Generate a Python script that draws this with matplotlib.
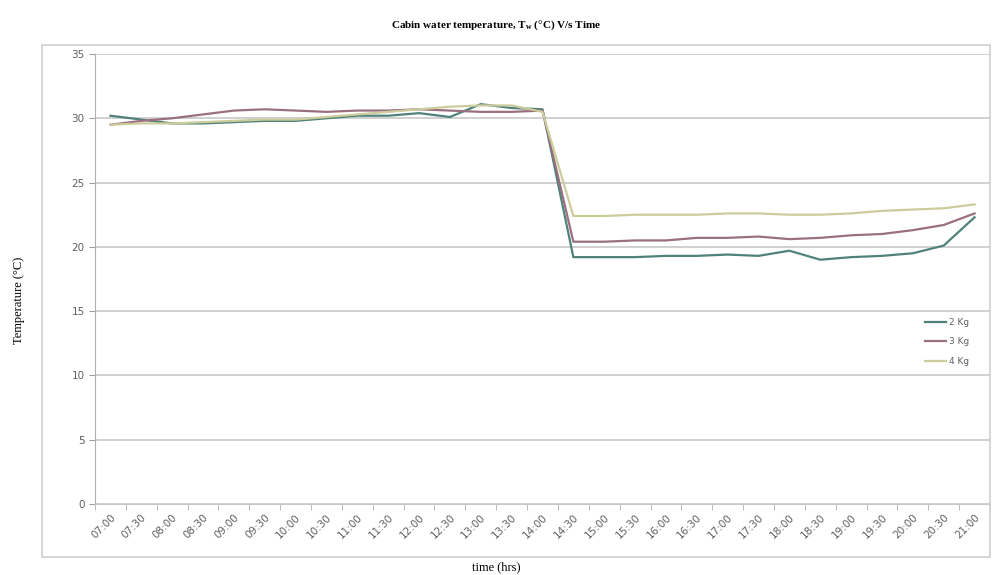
import matplotlib as mpl
mpl.use('Agg')
import matplotlib.pyplot as plt
from matplotlib.patches import Rectangle

times = ['07:00', '07:30', '08:00', '08:30', '09:00', '09:30', '10:00', '10:30',
         '11:00', '11:30', '12:00', '12:30', '13:00', '13:30', '14:00', '14:30',
         '15:00', '15:30', '16:00', '16:30', '17:00', '17:30', '18:00', '18:30',
         '19:00', '19:30', '20:00', '20:30', '21:00']

t_2kg = [30.2, 29.9, 29.6, 29.6, 29.7, 29.8, 29.8, 30.0, 30.2, 30.2, 30.4, 30.1,
         31.1, 30.8, 30.7, 19.2, 19.2, 19.2, 19.3, 19.3, 19.4, 19.3, 19.7, 19.0,
         19.2, 19.3, 19.5, 20.1, 22.3]
t_3kg = [29.5, 29.8, 30.0, 30.3, 30.6, 30.7, 30.6, 30.5, 30.6, 30.6, 30.7, 30.6,
         30.5, 30.5, 30.6, 20.4, 20.4, 20.5, 20.5, 20.7, 20.7, 20.8, 20.6, 20.7,
         20.9, 21.0, 21.3, 21.7, 22.6]
t_4kg = [29.5, 29.6, 29.6, 29.7, 29.8, 29.9, 29.9, 30.1, 30.3, 30.5, 30.7, 30.9,
         31.0, 31.0, 30.5, 22.4, 22.4, 22.5, 22.5, 22.5, 22.6, 22.6, 22.5, 22.5,
         22.6, 22.8, 22.9, 23.0, 23.3]

fig = plt.figure(figsize=(9.92, 5.75), dpi=100)
fig.patches.append(Rectangle((42/992, 1 - 557/575), (990 - 42)/992, (557 - 45)/575,
                             transform=fig.transFigure, fill=False,
                             edgecolor='#cfcfcf', linewidth=1.2))
ax = fig.add_axes([95/992, 1 - 504/575, 895/992, 450/575])

x = list(range(len(times)))
ax.plot(x, t_2kg, color='#4f827b', lw=1.6, label='2 Kg')
ax.plot(x, t_3kg, color='#9a6f80', lw=1.6, label='3 Kg')
ax.plot(x, t_4kg, color='#cdcc9c', lw=1.6, label='4 Kg')

ax.set_xlim(-0.5, len(times) - 0.5)
ax.set_ylim(0, 35)
ax.set_yticks(range(0, 36, 5))
ax.set_xticks(x)
ax.set_xticklabels(times, rotation=45, ha='right', rotation_mode='anchor')
ax.tick_params(axis='both', colors='#a0a0a0', labelcolor='#606060', labelsize=7.5, length=4)
ax.set_xticks([i - 0.5 for i in range(len(times) + 1)], minor=True)
ax.tick_params(axis='x', which='major', length=0, pad=6)
ax.tick_params(axis='x', which='minor', length=4, color='#b0b0b0')
ax.grid(axis='y', color='#c8c8c8', lw=1.2)
ax.set_axisbelow(True)
for s in ['top', 'right']:
    ax.spines[s].set_visible(False)
ax.spines['left'].set_color('#b0b0b0')
ax.spines['bottom'].set_color('#c8c8c8')

fig.text(0.5, 1 - 25/575, 'Cabin water temperature, T$_\\mathregular{w}$ (\u00b0C) V/s Time',
         ha='center', va='center', fontsize=8, fontweight='bold', family='Liberation Serif')
fig.text(19/992, 1 - 300/575, 'Temperature (\u00b0C)', rotation=90, ha='center', va='center',
         fontsize=9, family='Liberation Serif')
fig.text(0.5, 1 - 567/575, 'time (hrs)', ha='center', va='center', fontsize=9,
         family='Liberation Serif')

ax.legend(loc='center left', bbox_to_anchor=(0.918, 0.36), frameon=False, fontsize=6.5,
          handlelength=2.4, labelspacing=1.2, handletextpad=0.3, labelcolor='#606060')

plt.savefig('out.png')
